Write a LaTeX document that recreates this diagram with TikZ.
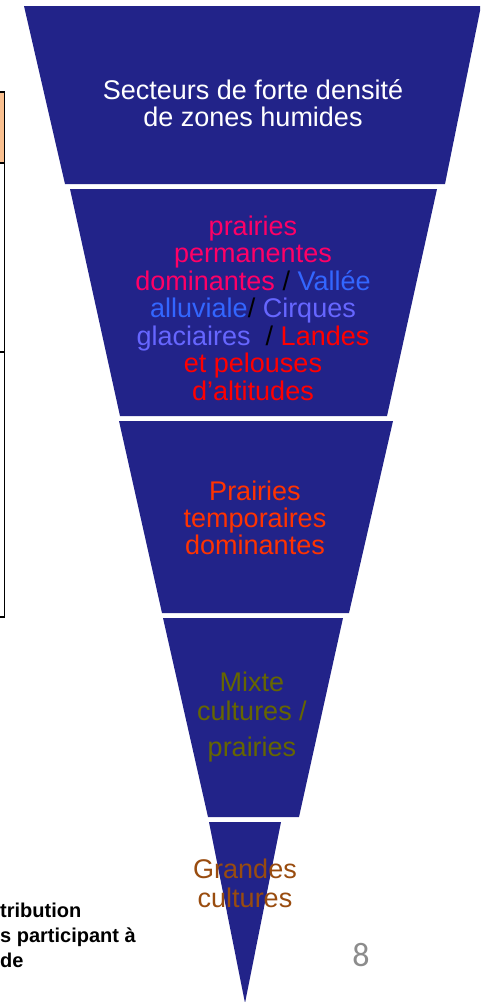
\documentclass[tikz,border=0pt]{standalone}
\usepackage{fontspec}
\setmainfont{Liberation Sans}
\newfontfamily\numfont{Carlito}
\definecolor{funnel}{RGB}{34,35,137}
\definecolor{pinkc}{RGB}{255,0,102}
\definecolor{bluec}{RGB}{51,102,255}
\definecolor{lavc}{RGB}{102,102,255}
\definecolor{redc}{RGB}{255,0,0}
\definecolor{orangec}{RGB}{255,51,0}
\definecolor{olivec}{RGB}{102,102,0}
\definecolor{brownc}{RGB}{153,76,15}
\definecolor{peach}{RGB}{250,192,144}
\definecolor{pagegray}{RGB}{140,140,140}
\begin{document}
\begin{tikzpicture}[x=1pt,y=-1pt,
  band/.style={fill=funnel},
  lbl/.style={anchor=base, inner sep=0pt, font=\fontsize{27}{29}\selectfont},
  note/.style={anchor=base west, inner sep=0pt, font=\fontsize{20}{24}\selectfont\bfseries},
  boxline/.style={draw=black, line width=1.5pt}]
\useasboundingbox (0,0) rectangle (480,1002);
\begin{scope}
\clip (0,0) rectangle (480,1002);
% left table fragment
\fill[peach] (-2,92) rectangle (4.5,163);
\draw[boxline] (-2,92) -- (4.5,92) -- (4.5,617) -- (-2,617);
\draw[boxline] (-2,163) -- (4.5,163);
\draw[boxline] (-2,352) -- (4.5,352);
% funnel bands
\fill[band] (24,6) -- (481,6) -- (445,184) -- (65,184) -- cycle;
\fill[band] (70,189) -- (437,189) -- (387,416) -- (120,416) -- cycle;
\fill[band] (119,421) -- (393,421) -- (349,613) -- (162,613) -- cycle;
\fill[band] (163,618) -- (343,618) -- (299,817) -- (208,817) -- cycle;
\fill[band] (209,822) -- (281,822) -- (245,1003) -- cycle;
% band 1
\node[lbl, text=white] (a1) at (253,99) {Secteurs de forte densité};
\node[lbl, text=white] (a2) at (253,126) {de zones humides};
% band 2
\node[lbl, text=pinkc] (b1) at (253,235) {prairies};
\node[lbl, text=pinkc] (b2) at (253,262.5) {permanentes};
\node[lbl] (b3) at (253,290) {\textcolor{pinkc}{dominantes} \textcolor{black}{/} \textcolor{bluec}{Vallée}};
\node[lbl] (b4) at (253,317.5) {\textcolor{bluec}{alluviale}\textcolor{black}{/} \textcolor{lavc}{Cirques}};
\node[lbl] (b5) at (253,345) {\textcolor{lavc}{glaciaires}\ \ \textcolor{black}{/} \textcolor{redc}{Landes}};
\node[lbl, text=redc] (b6) at (253,372.5) {et pelouses};
\node[lbl, text=redc] (b7) at (253,400) {d’altitudes};
% band 3
\node[lbl, text=orangec] (c1) at (255,500) {Prairies};
\node[lbl, text=orangec] (c2) at (255,527.5) {temporaires};
\node[lbl, text=orangec] (c3) at (255,554.5) {dominantes};
% band 4
\node[lbl, text=olivec] (d1) at (252,691.5) {Mixte};
\node[lbl, text=olivec] (d2) at (252,720) {cultures /};
\node[lbl, text=olivec] (d3) at (252,756.5) {prairies};
% band 5
\node[lbl, text=brownc] (e1) at (245,878) {Grandes};
\node[lbl, text=brownc] (e2) at (245,907) {cultures};
% bottom-left note
\node[note] (n1) at (0,917) {tribution};
\node[note] (n2) at (0,942) {s participant à};
\node[note] (n3) at (0,967) {de};
% page number
\node[anchor=base, inner sep=0pt, text=pagegray, font=\numfont\fontsize{34}{38}\selectfont] (pg) at (361,966) {8};
\end{scope}
\end{tikzpicture}
\end{document}
